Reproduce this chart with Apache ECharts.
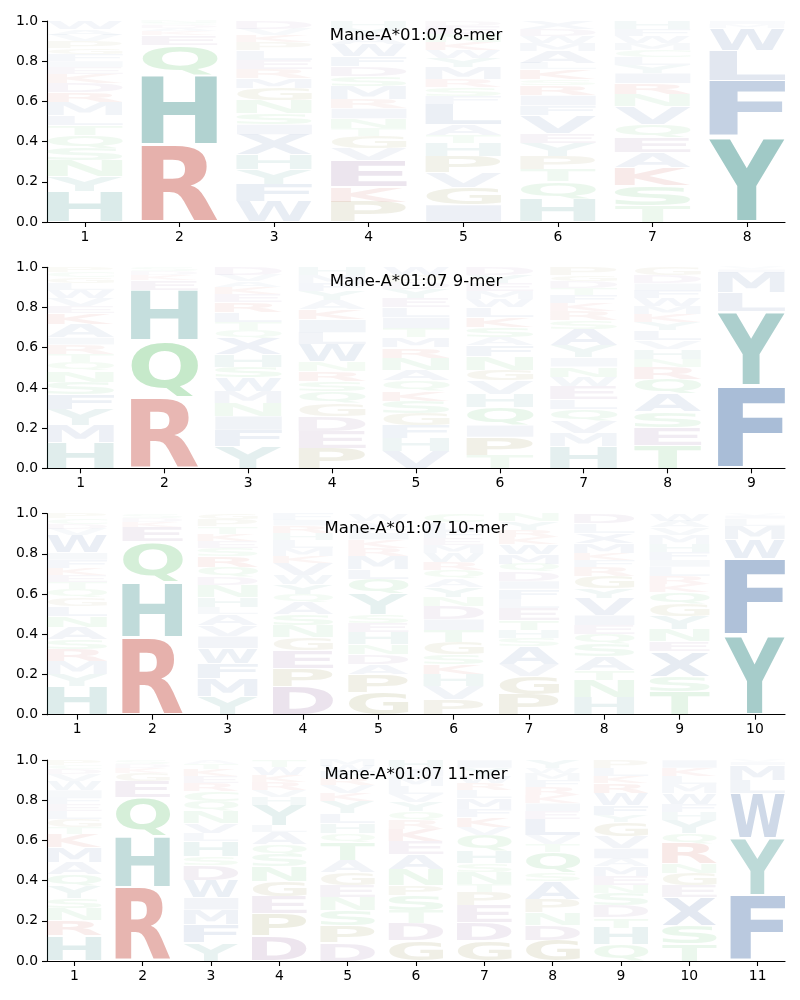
<!DOCTYPE html>
<html><head><meta charset="utf-8">
<script src="https://cdn.jsdelivr.net/npm/echarts@6.0.0/dist/echarts.min.js"></script>
<style>html,body{margin:0;padding:0;background:#fff}#c{width:800px;height:1000px}</style>
</head><body><div id="c"></div>
<script>
// ---------- data (letters bottom -> top, heights) ----------
const titles = ['Mane-A*01:07 8-mer', 'Mane-A*01:07 9-mer', 'Mane-A*01:07 10-mer', 'Mane-A*01:07 11-mer'];

const mer8 = [
  ['HYNSQTLMRDKEIFGPVAW', [.15,.075,.08,.06,.065,.05,.05,.065,.05,.045,.045,.035,.03,.035,.03,.035,.03,.03,.04]],
  ['RHQEKADSN', [.385,.345,.15,.05,.02,.015,.015,.01,.01]],
  ['WFYHXISNGMRELPKVD', [.10,.085,.075,.075,.10,.05,.055,.065,.06,.05,.045,.045,.05,.04,.035,.03,.04]],
  ['PKEVGTNIRMSDFWAYH', [.10,.075,.13,.06,.06,.04,.05,.05,.045,.065,.05,.05,.05,.06,.04,.04,.035]],
  ['IGVPHTALFSRMYWKNED', [.085,.085,.075,.08,.065,.04,.055,.10,.04,.045,.04,.06,.045,.04,.04,.04,.04,.025]],
  ['HQTPYEVFIRSKLAMWDX', [.115,.085,.06,.065,.065,.05,.09,.05,.05,.05,.03,.05,.03,.06,.04,.035,.035,.04]],
  ['TSKAEQVNRIYLCMWFH', [.08,.10,.09,.075,.075,.065,.09,.06,.055,.05,.04,.04,.035,.035,.035,.035,.04]],
  ['YFLWMI', [.425,.28,.15,.11,.02,.015]]
];
const mer9 = [
  ['HMYFSNQTRIAKEVWLGCP', [.13,.085,.08,.075,.06,.055,.045,.04,.045,.035,.065,.055,.035,.04,.04,.035,.03,.025,.025]],
  ['RQHEKDS', [.355,.28,.25,.05,.025,.02,.02]],
  ['YFINMWSHXQTLREKAVD', [.11,.08,.07,.065,.06,.065,.055,.06,.08,.04,.04,.05,.05,.04,.035,.03,.03,.04]],
  ['PEDGQSRNWLIKAYFMH', [.10,.085,.075,.065,.06,.05,.05,.045,.085,.06,.065,.05,.045,.045,.04,.04,.04]],
  ['VHFGSKQANRMTILEYDPW', [.085,.065,.065,.06,.06,.05,.05,.055,.06,.05,.05,.045,.055,.05,.045,.045,.035,.035,.04]],
  ['TPIQHVGNFASKLWMEYD', [.065,.09,.06,.09,.065,.065,.055,.065,.055,.04,.05,.05,.05,.04,.04,.04,.04,.04]],
  ['HMVQLEWNIYASRKFTDGP', [.11,.065,.06,.06,.05,.065,.045,.05,.045,.06,.08,.045,.045,.04,.04,.035,.035,.03,.04]],
  ['TESAQRNHVLYKMWFIDG', [.115,.09,.075,.09,.075,.06,.04,.05,.04,.05,.04,.04,.04,.04,.04,.035,.04,.04]],
  ['FYLMIV', [.41,.37,.095,.10,.015,.01]]
];
const mer10 = [
  ['HYMRSANLGQTEKFIWVDCP', [.14,.06,.065,.06,.05,.06,.055,.05,.04,.045,.035,.035,.035,.04,.035,.09,.03,.025,.025,.025]],
  ['RHQEKDS', [.385,.275,.2,.075,.025,.02,.02]],
  ['YMFWIVALHNDQRSEKTPG', [.09,.09,.075,.075,.06,.055,.055,.035,.05,.06,.04,.05,.055,.04,.035,.035,.035,.035,.03]],
  ['DPEGNSAQYWVKMLHRIF', [.14,.09,.09,.065,.06,.055,.06,.04,.05,.045,.06,.035,.04,.04,.035,.035,.03,.03]],
  ['GPADNHESYQLMRKIFVW', [.11,.09,.05,.05,.05,.06,.045,.045,.10,.075,.05,.065,.04,.04,.035,.035,.025,.035]],
  ['PVHKSGTIDNYAQRWMEFLC', [.075,.065,.06,.05,.05,.06,.06,.055,.065,.045,.05,.04,.045,.04,.045,.04,.035,.035,.04,.045]],
  ['PGVASHTELFIDQMWKRYN', [.10,.09,.06,.09,.04,.04,.05,.06,.045,.05,.04,.045,.04,.05,.05,.035,.035,.04,.04]],
  ['HNTASQEIVYGRFKMXLD', [.085,.085,.05,.07,.06,.05,.045,.05,.085,.05,.06,.045,.035,.035,.05,.05,.045,.05]],
  ['TSXENYGQKRLIFHMVAW', [.115,.075,.125,.05,.06,.065,.06,.06,.04,.04,.045,.035,.04,.04,.045,.035,.035,.035]],
  ['YFWMLIV', [.395,.38,.095,.07,.035,.015,.01]]
];
const mer11 = [
  ['HRNSYQAMKTGLEFIWVDCP', [.125,.075,.06,.05,.06,.06,.06,.075,.065,.035,.04,.04,.035,.035,.035,.045,.035,.025,.02,.025]],
  ['RHQEGKDS', [.365,.255,.195,.08,.04,.025,.02,.02]],
  ['YFMIWDSHLVNQCREKTA', [.09,.09,.075,.06,.085,.075,.045,.075,.04,.05,.06,.05,.05,.04,.035,.035,.025,.02]],
  ['DPEGNSQALYHVRKWT', [.125,.11,.085,.075,.075,.06,.05,.06,.035,.1,.04,.035,.04,.035,.04,.035]],
  ['DPSNEGATQHLYKVRFWM', [.09,.085,.075,.065,.06,.065,.06,.09,.045,.05,.05,.06,.04,.04,.035,.03,.03,.03]],
  ['GDTSPNAEKRQYVLMIH', [.10,.085,.065,.075,.05,.08,.075,.065,.06,.045,.045,.045,.04,.04,.045,.04,.045]],
  ['GDEPTNSHQVKFMLRWYI', [.10,.09,.085,.065,.04,.06,.045,.06,.08,.04,.05,.04,.055,.04,.035,.035,.04,.04]],
  ['GDNPASQTVLEIKRFMWY', [.105,.075,.06,.065,.09,.045,.1,.04,.045,.08,.04,.04,.04,.04,.035,.035,.025,.04]],
  ['QHTDSNEMAIVGYFWRKLP', [.08,.085,.05,.06,.06,.04,.045,.05,.04,.05,.06,.07,.035,.05,.06,.05,.035,.04,.04]],
  ['TSXEGNRQYHFWMLKI', [.085,.09,.14,.06,.06,.05,.10,.05,.065,.04,.04,.055,.045,.04,.04,.04]],
  ['FYWLMIV', [.325,.285,.225,.065,.075,.015,.01]]
];
const yTicks = [0, 0.2, 0.4, 0.6, 0.8, 1.0];

// ---------- styling ----------
const ALPHABET = 'ACDEFGHIKLMNPQRSTVWXY';
const letterColors = {
  R: '#c03c30', K: '#c03c30',
  H: '#26837e', Y: '#26837e',
  Q: '#3cb44b', N: '#3cb44b', S: '#3cb44b', T: '#3cb44b', C: '#3cb44b',
  F: '#3562a0', W: '#3562a0',
  L: '#4f6fa6', M: '#4f6fa6', I: '#4f6fa6', V: '#4f6fa6', A: '#4f6fa6', X: '#4f6fa6',
  P: '#7a7420', G: '#7a7420',
  D: '#7d4a8a', E: '#7d4a8a'
};
const FONT = 'bold 100px "DejaVu Sans"';
const mctx = document.createElement('canvas').getContext('2d');
mctx.font = FONT; mctx.textAlign = 'center'; mctx.textBaseline = 'middle';
const metrics = {};
function metric(ch) {
  if (!metrics[ch]) {
    const m = mctx.measureText(ch);
    metrics[ch] = { L: m.actualBoundingBoxLeft, R: m.actualBoundingBoxRight, A: m.actualBoundingBoxAscent, D: m.actualBoundingBoxDescent };
  }
  return metrics[ch];
}

const panels = [mer8, mer9, mer10, mer11];
const GRID_TOP0 = 21, GRID_STEP = 246.33, GRID_H = 201;

function buildData(cols) {
  const out = [];
  cols.forEach((col, i) => {
    const letters = col[0], vals = col[1];
    let acc = 0;
    const n = Math.min(letters.length, vals.length);
    for (let k = 0; k < n; k++) {
      out.push([i + 1, acc, acc + vals[k], ALPHABET.indexOf(letters[k]), vals[k]]);
      acc += vals[k];
    }
  });
  return out;
}

function renderItem(params, api) {
  const x = api.value(0), y0 = api.value(1), y1 = api.value(2);
  const ch = ALPHABET[api.value(3)];
  const h = api.value(4);
  const pad = (y1 - y0) * 0.025;
  const p0 = api.coord([x - 0.4, y0 + pad]);
  const p1 = api.coord([x + 0.4, y1 - pad]);
  const m = metric(ch);
  const bw = p1[0] - p0[0], bh = p0[1] - p1[1];
  const sx = bw / (m.L + m.R), sy = bh / (m.A + m.D);
  return {
    type: 'text',
    x: p0[0] + m.L * sx,
    y: p1[1] + m.A * sy,
    scaleX: sx, scaleY: sy,
    silent: true,
    style: {
      text: ch, font: FONT, fill: letterColors[ch] || '#888',
      opacity: Math.min(1, 0.015 + h),
      align: 'center', verticalAlign: 'middle'
    }
  };
}

const labelStyle = { color: '#000', fontFamily: 'DejaVu Sans', fontSize: 13.9 };
const axisLine = { show: true, lineStyle: { color: '#000', width: 1.1 } };
const axisTickBase = { show: true, inside: false, length: 5, lineStyle: { color: '#000', width: 1.1 } };

const option = {
  animation: false,
  backgroundColor: '#fff',
  title: [], grid: [], xAxis: [], yAxis: [], series: []
};
panels.forEach((cols, gi) => {
  const N = cols.length;
  const top = GRID_TOP0 + gi * GRID_STEP;
  const positions = cols.map((c, i) => i + 1);
  option.grid.push({ left: 47, right: 15, top: top, height: GRID_H, containLabel: false });
  option.title.push({
    text: titles[gi], left: 416, top: top + 6.2, textAlign: 'center', padding: 0,
    textStyle: { fontFamily: 'DejaVu Sans', fontSize: 16.5, fontWeight: 'normal', color: '#000' }
  });
  option.xAxis.push({
    type: 'value', gridIndex: gi, min: 0.6, max: N + 0.4,
    axisLine: axisLine,
    axisTick: Object.assign({}, axisTickBase, { customValues: positions }),
    axisLabel: Object.assign({}, labelStyle, { margin: 8, customValues: positions, formatter: v => String(Math.round(v)) }),
    splitLine: { show: false }
  });
  option.yAxis.push({
    type: 'value', gridIndex: gi, min: 0, max: 1, interval: 0.2,
    axisLine: axisLine,
    axisTick: Object.assign({}, axisTickBase, { customValues: yTicks }),
    axisLabel: Object.assign({}, labelStyle, { margin: 9, customValues: yTicks, formatter: v => v.toFixed(1) }),
    splitLine: { show: false }
  });
  option.series.push({
    type: 'custom', xAxisIndex: gi, yAxisIndex: gi,
    renderItem: renderItem, data: buildData(cols), clip: false, silent: true
  });
});

const chart = echarts.init(document.getElementById('c'), null, { renderer: 'canvas' });
chart.setOption(option);
</script>
</body></html>
